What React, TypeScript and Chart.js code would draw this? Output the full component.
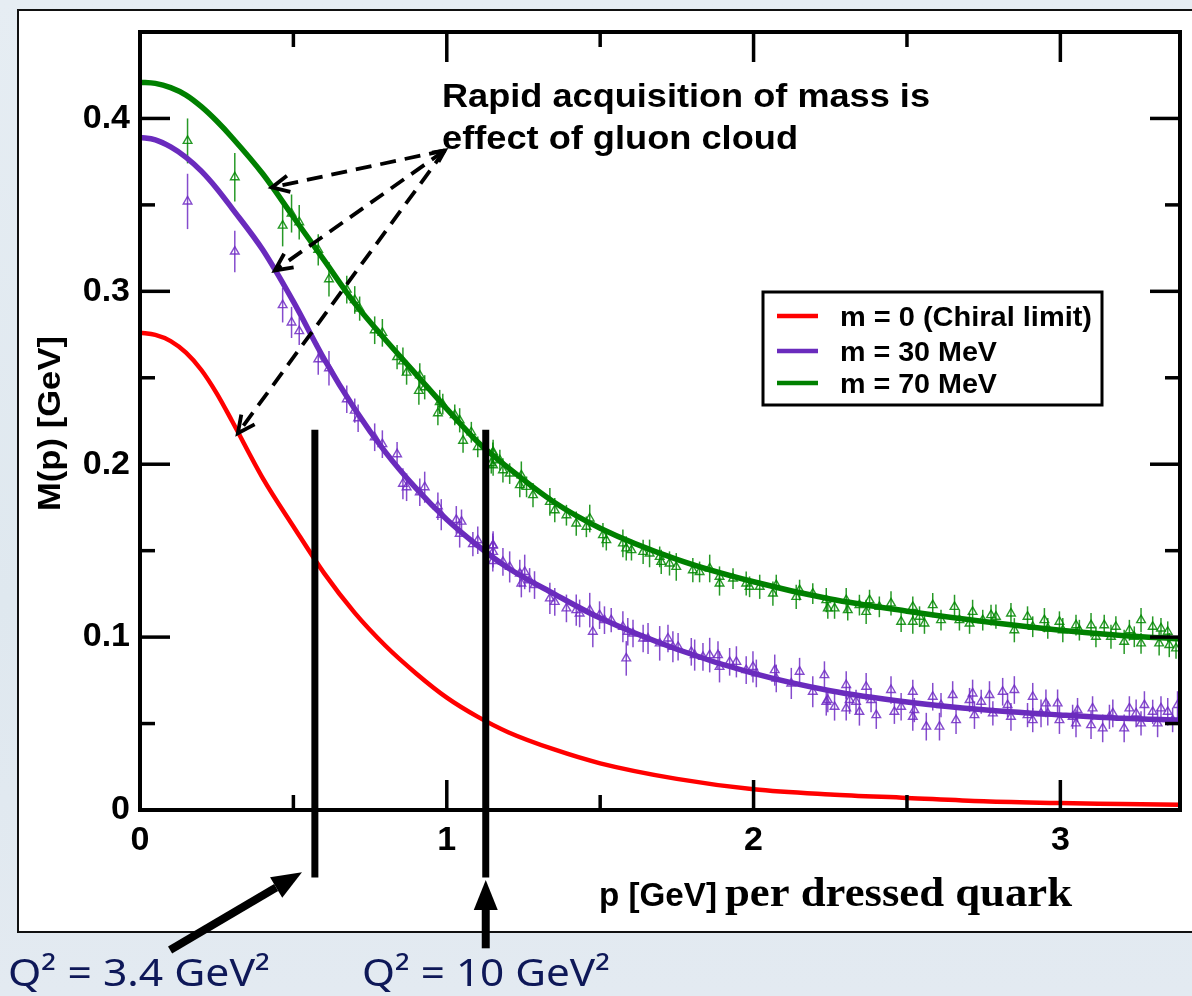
import React, { useEffect, useRef } from "react";
import { Chart, registerables } from "chart.js";

Chart.register(...registerables);

const SANS = '"Liberation Sans", Arial, Helvetica, sans-serif';
const SERIF = '"Liberation Serif", "Times New Roman", serif';
const HAND = '"Noto Sans", "DejaVu Sans", sans-serif';

// ---- Curves (Dyson–Schwinger mass function), p in GeV ----
const momentum = [0, 0.05, 0.1, 0.15, 0.2, 0.25, 0.3, 0.4, 0.5, 0.6, 0.7, 0.8, 0.9, 1.0, 1.1, 1.2, 1.35, 1.5, 1.75, 2.0, 2.25, 2.5, 2.75, 3.0, 3.2, 3.39];
const massChiral = [0.276, 0.2748, 0.2712, 0.2645, 0.2545, 0.241, 0.225, 0.192, 0.164, 0.137, 0.114, 0.095, 0.079, 0.065, 0.054, 0.045, 0.035, 0.027, 0.018, 0.012, 0.009, 0.007, 0.005, 0.004, 0.0035, 0.003];
const mass30 = [0.389, 0.3876, 0.3835, 0.3775, 0.3695, 0.3595, 0.348, 0.324, 0.294, 0.261, 0.232, 0.207, 0.186, 0.168, 0.153, 0.140, 0.125, 0.111, 0.093, 0.079, 0.069, 0.0625, 0.058, 0.055, 0.053, 0.052];
const mass70 = [0.421, 0.4203, 0.4178, 0.4135, 0.4068, 0.3985, 0.389, 0.368, 0.343, 0.318, 0.293, 0.272, 0.252, 0.232, 0.213, 0.198, 0.178, 0.163, 0.145, 0.132, 0.122, 0.115, 0.109, 0.104, 0.101, 0.099];

const seriesLabels = ["m = 0 (Chiral limit)", "m = 30 MeV", "m = 70 MeV"];
const seriesColors = ["#ff0000", "#6a2bbd", "#008000"];
const latticeColors = ["rgba(112,44,196,0.85)", "rgba(0,135,0,0.85)"];

// ---- Lattice points: [p, M(p), error] ----
const lattice30: [number, number, number][] = [
  [0.155, 0.352, 0.016], [0.309, 0.323, 0.012], [0.465, 0.292, 0.010], [0.494, 0.282, 0.009], [0.519, 0.277, 0.008],
  [0.581, 0.2607, 0.009], [0.616, 0.2555, 0.010], [0.674, 0.2376, 0.008], [0.700, 0.231, 0.007], [0.711, 0.2266, 0.008],
  [0.765, 0.2156, 0.008], [0.790, 0.2116, 0.008], [0.838, 0.2058, 0.007], [0.857, 0.1887, 0.009], [0.869, 0.1867, 0.008],
  [0.912, 0.1838, 0.008], [0.928, 0.1867, 0.009], [0.971, 0.1757, 0.008], [0.982, 0.1708, 0.009], [1.031, 0.1678, 0.008],
  [1.048, 0.1668, 0.007], [1.042, 0.1598, 0.008], [1.085, 0.1538, 0.007], [1.101, 0.156, 0.008], [1.150, 0.1529, 0.007],
  [1.150, 0.144, 0.006], [1.151, 0.1532, 0.008], [1.151, 0.1493, 0.009], [1.183, 0.1435, 0.008], [1.205, 0.1406, 0.009],
  [1.238, 0.1368, 0.008], [1.254, 0.1377, 0.010], [1.243, 0.131, 0.008], [1.270, 0.1329, 0.007], [1.286, 0.1301, 0.008],
  [1.336, 0.1224, 0.009], [1.352, 0.1204, 0.008], [1.390, 0.1166, 0.008], [1.422, 0.1156, 0.009], [1.433, 0.1137, 0.008],
  [1.466, 0.1156, 0.010], [1.476, 0.1031, 0.009], [1.498, 0.1127, 0.008], [1.514, 0.1098, 0.008], [1.536, 0.1098, 0.007],
  [1.574, 0.106, 0.009], [1.590, 0.1031, 0.008], [1.607, 0.1021, 0.008], [1.585, 0.0877, 0.010], [1.640, 0.0992, 0.008],
  [1.656, 0.0992, 0.009], [1.694, 0.0964, 0.010], [1.721, 0.0992, 0.008], [1.737, 0.0944, 0.009], [1.754, 0.0944, 0.008],
  [1.797, 0.0915, 0.008], [1.808, 0.0896, 0.009], [1.835, 0.0886, 0.008], [1.857, 0.0896, 0.010], [1.884, 0.0896, 0.008],
  [1.889, 0.0828, 0.009], [1.922, 0.0857, 0.008], [1.944, 0.0857, 0.009], [1.976, 0.0809, 0.008], [1.998, 0.0828, 0.009],
  [2.009, 0.079, 0.008], [2.069, 0.0809, 0.009], [2.074, 0.0761, 0.008], [2.123, 0.0732, 0.009], [2.150, 0.08, 0.008],
  [2.193, 0.0684, 0.009], [2.231, 0.078, 0.008], [2.237, 0.0626, 0.008], [2.242, 0.0636, 0.007], [2.264, 0.0597, 0.008],
  [2.302, 0.0723, 0.008], [2.302, 0.0588, 0.007], [2.313, 0.0636, 0.008], [2.334, 0.0626, 0.007], [2.345, 0.0568, 0.008],
  [2.367, 0.0713, 0.008], [2.383, 0.0636, 0.007], [2.400, 0.0549, 0.008], [2.448, 0.0694, 0.008], [2.459, 0.0568, 0.007],
  [2.481, 0.0597, 0.008], [2.519, 0.0684, 0.007], [2.519, 0.0539, 0.008], [2.524, 0.0578, 0.007], [2.563, 0.0482, 0.008],
  [2.584, 0.0655, 0.008], [2.606, 0.0482, 0.008], [2.611, 0.0607, 0.007], [2.649, 0.0665, 0.008], [2.660, 0.052, 0.008],
  [2.704, 0.0636, 0.007], [2.714, 0.0674, 0.008], [2.720, 0.0549, 0.008], [2.742, 0.0626, 0.007], [2.769, 0.0665, 0.008],
  [2.780, 0.0559, 0.007], [2.812, 0.0684, 0.008], [2.828, 0.0607, 0.007], [2.839, 0.0539, 0.008], [2.850, 0.0694, 0.008],
  [2.893, 0.0549, 0.007], [2.910, 0.0655, 0.008], [2.910, 0.052, 0.007], [2.937, 0.0559, 0.008], [2.953, 0.0617, 0.008],
  [2.959, 0.0559, 0.007], [2.991, 0.0617, 0.008], [2.997, 0.052, 0.008], [3.040, 0.0539, 0.007], [3.051, 0.0501, 0.008],
  [3.056, 0.0578, 0.007], [3.100, 0.0491, 0.008], [3.105, 0.0588, 0.007], [3.138, 0.0472, 0.008], [3.160, 0.0539, 0.007],
  [3.171, 0.0559, 0.008], [3.208, 0.0472, 0.008], [3.225, 0.0588, 0.007], [3.247, 0.0559, 0.008], [3.263, 0.0501, 0.007],
  [3.274, 0.0607, 0.008], [3.301, 0.0568, 0.007], [3.317, 0.0501, 0.008], [3.328, 0.0588, 0.007], [3.350, 0.0568, 0.008],
  [3.366, 0.052, 0.007], [3.382, 0.0607, 0.008],
];

const lattice70: [number, number, number][] = [
  [0.155, 0.387, 0.013], [0.309, 0.366, 0.014], [0.465, 0.338, 0.012], [0.494, 0.345, 0.011], [0.519, 0.340, 0.010],
  [0.581, 0.324, 0.009], [0.616, 0.307, 0.010], [0.674, 0.301, 0.008], [0.700, 0.295, 0.008], [0.716, 0.290, 0.007],
  [0.765, 0.2775, 0.008], [0.790, 0.276, 0.008], [0.838, 0.262, 0.007], [0.857, 0.2595, 0.008], [0.869, 0.253, 0.007],
  [0.912, 0.2514, 0.007], [0.909, 0.2424, 0.008], [0.928, 0.2445, 0.007], [0.977, 0.236, 0.007], [0.987, 0.2347, 0.006],
  [0.971, 0.2295, 0.007], [1.026, 0.2285, 0.006], [1.042, 0.2254, 0.007], [1.080, 0.2185, 0.006], [1.053, 0.2136, 0.007],
  [1.101, 0.210, 0.006], [1.150, 0.2066, 0.006], [1.145, 0.2006, 0.006], [1.151, 0.2071, 0.007], [1.151, 0.1994, 0.006],
  [1.173, 0.2023, 0.006], [1.183, 0.1965, 0.007], [1.205, 0.1946, 0.006], [1.243, 0.1936, 0.008], [1.238, 0.1879, 0.007],
  [1.260, 0.1869, 0.006], [1.281, 0.1821, 0.007], [1.336, 0.1782, 0.008], [1.352, 0.1734, 0.007], [1.390, 0.1705, 0.006],
  [1.422, 0.1657, 0.007], [1.455, 0.1638, 0.006], [1.466, 0.1686, 0.008], [1.509, 0.159, 0.007], [1.520, 0.1561, 0.006],
  [1.574, 0.1542, 0.008], [1.585, 0.1513, 0.007], [1.602, 0.1503, 0.006], [1.640, 0.1493, 0.007], [1.661, 0.1484, 0.008],
  [1.694, 0.1464, 0.006], [1.699, 0.1435, 0.007], [1.726, 0.1426, 0.007], [1.748, 0.1406, 0.008], [1.802, 0.1387, 0.007],
  [1.824, 0.1377, 0.006], [1.857, 0.1397, 0.008], [1.889, 0.1349, 0.006], [1.889, 0.131, 0.007], [1.933, 0.1339, 0.006],
  [1.976, 0.131, 0.007], [1.987, 0.1291, 0.006], [2.020, 0.1291, 0.007], [2.063, 0.1252, 0.007], [2.074, 0.1301, 0.006],
  [2.139, 0.1233, 0.007], [2.150, 0.1272, 0.006], [2.193, 0.1252, 0.006], [2.237, 0.1214, 0.007], [2.242, 0.1166, 0.006],
  [2.264, 0.1166, 0.006], [2.302, 0.1214, 0.007], [2.307, 0.1156, 0.006], [2.345, 0.1185, 0.006], [2.367, 0.1146, 0.007],
  [2.378, 0.1214, 0.006], [2.410, 0.1175, 0.006], [2.448, 0.1195, 0.007], [2.481, 0.1089, 0.006], [2.519, 0.1175, 0.006],
  [2.519, 0.1089, 0.007], [2.541, 0.1118, 0.006], [2.557, 0.1079, 0.006], [2.584, 0.1185, 0.007], [2.611, 0.1098, 0.006],
  [2.655, 0.1175, 0.007], [2.671, 0.1098, 0.006], [2.704, 0.1079, 0.006], [2.714, 0.1146, 0.007], [2.747, 0.1098, 0.006],
  [2.774, 0.1127, 0.006], [2.790, 0.1118, 0.007], [2.839, 0.1137, 0.006], [2.850, 0.104, 0.007], [2.893, 0.1118, 0.006],
  [2.910, 0.106, 0.006], [2.948, 0.1098, 0.007], [2.959, 0.105, 0.006], [2.997, 0.1089, 0.006], [3.008, 0.104, 0.007],
  [3.051, 0.1069, 0.006], [3.062, 0.104, 0.006], [3.100, 0.1069, 0.007], [3.116, 0.1002, 0.006], [3.143, 0.1069, 0.006],
  [3.165, 0.1002, 0.007], [3.181, 0.106, 0.006], [3.208, 0.0973, 0.007], [3.225, 0.104, 0.006], [3.241, 0.1002, 0.006],
  [3.263, 0.1098, 0.007], [3.263, 0.0964, 0.006], [3.301, 0.106, 0.006], [3.322, 0.0964, 0.007], [3.328, 0.105, 0.006],
  [3.350, 0.1031, 0.006], [3.355, 0.0954, 0.007], [3.377, 0.0935, 0.006],
];

// ---- Axes ----
const xRange = [0, 3.39];
const yRange = [0, 0.45];
const xMajorTicks = [0, 1, 2, 3];
const xMinorTicks = [0.5, 1.5, 2.5];
const yMajorTicks = [0, 0.1, 0.2, 0.3, 0.4];
const yMinorTicks = [0.05, 0.15, 0.25, 0.35];
const yTickText = ["0", "0.1", "0.2", "0.3", "0.4"];

// ---- Annotations (data units) ----
const q2Markers = [
  { p: 0.57, top: 0.22, bottom: -0.039, tail: [0.098, -0.081], tip: [0.528, -0.036], label: "Q\u00B2 = 3.4 GeV\u00B2" },
  { p: 1.127, top: 0.22, bottom: -0.039, tail: [1.127, -0.080], tip: [1.127, -0.0405], label: "Q\u00B2 = 10 GeV\u00B2" },
];
const noteSource = [0.9935, 0.3815];
const noteTargets = [[0.43, 0.3601], [0.4397, 0.3121], [0.319, 0.2179]];
const noteLines = ["Rapid acquisition of mass is", "effect of gluon cloud"];

function fitText(ctx: CanvasRenderingContext2D, text: string, x: number, y: number, font: string, width: number, color = "#000", rot = 0) {
  ctx.save();
  ctx.font = font;
  ctx.fillStyle = color;
  ctx.textAlign = "left";
  ctx.textBaseline = "alphabetic";
  const w = ctx.measureText(text).width;
  ctx.translate(x, y);
  if (rot) ctx.rotate(rot);
  ctx.scale(width / w, 1);
  ctx.fillText(text, 0, 0);
  ctx.restore();
}

function solidArrow(ctx: CanvasRenderingContext2D, x1: number, y1: number, x2: number, y2: number) {
  const ang = Math.atan2(y2 - y1, x2 - x1);
  const head = 30, half = 12;
  const bx = x2 - head * Math.cos(ang), by = y2 - head * Math.sin(ang);
  ctx.save();
  ctx.strokeStyle = "#000";
  ctx.fillStyle = "#000";
  ctx.lineWidth = 8;
  ctx.beginPath();
  ctx.moveTo(x1, y1);
  ctx.lineTo(bx, by);
  ctx.stroke();
  ctx.beginPath();
  ctx.moveTo(x2, y2);
  ctx.lineTo(bx + half * Math.sin(ang), by - half * Math.cos(ang));
  ctx.lineTo(bx - half * Math.sin(ang), by + half * Math.cos(ang));
  ctx.closePath();
  ctx.fill();
  ctx.restore();
}

function chevron(ctx: CanvasRenderingContext2D, x: number, y: number, ang: number, len = 19) {
  ctx.save();
  ctx.setLineDash([]);
  ctx.beginPath();
  ctx.moveTo(x - len * Math.cos(ang - 0.45), y - len * Math.sin(ang - 0.45));
  ctx.lineTo(x, y);
  ctx.lineTo(x - len * Math.cos(ang + 0.45), y - len * Math.sin(ang + 0.45));
  ctx.stroke();
  ctx.restore();
}

const decorPlugin = {
  id: "decor",
  beforeDraw(chart: any) {
    const ctx = chart.ctx;
    ctx.save();
    ctx.fillStyle = "#ffffff";
    ctx.fillRect(18, 10, 1200, 922);
    ctx.strokeStyle = "#111";
    ctx.lineWidth = 2;
    ctx.strokeRect(18, 10, 1200, 922);
    ctx.restore();
  },
  beforeDatasetsDraw(chart: any) {
    const ctx = chart.ctx;
    const ys = chart.scales.y;
    const a = chart.chartArea;
    ctx.save();
    ctx.beginPath();
    ctx.rect(a.left, a.top, a.right - a.left, a.bottom - a.top);
    ctx.clip();
    chart.data.datasets.forEach((ds: any, i: number) => {
      if (!ds.errors) return;
      const meta = chart.getDatasetMeta(i);
      ctx.strokeStyle = ds.borderColor;
      ctx.lineWidth = 1.5;
      meta.data.forEach((pt: any, j: number) => {
        const v = ds.data[j].y;
        const e = ds.errors[j];
        ctx.beginPath();
        ctx.moveTo(pt.x, ys.getPixelForValue(v + e));
        ctx.lineTo(pt.x, ys.getPixelForValue(v - e));
        ctx.stroke();
      });
    });
    ctx.restore();
  },
  afterDatasetsDraw(chart: any) {
    const ctx = chart.ctx;
    const xs = chart.scales.x;
    const ys = chart.scales.y;
    const a = chart.chartArea;
    const X = (v: number) => xs.getPixelForValue(v);
    const Y = (v: number) => ys.getPixelForValue(v);
    ctx.save();

    // plot frame
    ctx.strokeStyle = "#000";
    ctx.lineWidth = 4;
    ctx.strokeRect(a.left, a.top, a.right - a.left, a.bottom - a.top);

    // inward ticks on all four sides
    ctx.lineWidth = 3.5;
    const tick = (x1: number, y1: number, x2: number, y2: number) => {
      ctx.beginPath();
      ctx.moveTo(x1, y1);
      ctx.lineTo(x2, y2);
      ctx.stroke();
    };
    yMajorTicks.forEach((v) => { tick(a.left, Y(v), a.left + 30, Y(v)); tick(a.right, Y(v), a.right - 30, Y(v)); });
    yMinorTicks.forEach((v) => { tick(a.left, Y(v), a.left + 15, Y(v)); tick(a.right, Y(v), a.right - 15, Y(v)); });
    xMajorTicks.forEach((v) => { tick(X(v), a.bottom, X(v), a.bottom - 30); tick(X(v), a.top, X(v), a.top + 30); });
    xMinorTicks.forEach((v) => { tick(X(v), a.bottom, X(v), a.bottom - 15); tick(X(v), a.top, X(v), a.top + 15); });

    // Q^2 marker lines and arrows
    q2Markers.forEach((m) => {
      ctx.lineWidth = 7;
      ctx.beginPath();
      ctx.moveTo(X(m.p), Y(m.top));
      ctx.lineTo(X(m.p), Y(m.bottom));
      ctx.stroke();
      solidArrow(ctx, X(m.tail[0]), Y(m.tail[1]), X(m.tip[0]), Y(m.tip[1]));
    });
    fitText(ctx, q2Markers[0].label, 8, 986, `38px ${HAND}`, 262, "#0e1858");
    fitText(ctx, q2Markers[1].label, 362, 986, `38px ${HAND}`, 248, "#0e1858");

    // dashed arrows from the note
    const sx = X(noteSource[0]), sy = Y(noteSource[1]);
    ctx.lineWidth = 3.8;
    ctx.strokeStyle = "#000";
    noteTargets.forEach((t) => {
      const tx = X(t[0]), ty = Y(t[1]);
      ctx.setLineDash([16, 9]);
      ctx.beginPath();
      ctx.moveTo(sx, sy);
      ctx.lineTo(tx, ty);
      ctx.stroke();
      chevron(ctx, tx, ty, Math.atan2(ty - sy, tx - sx));
    });
    ctx.setLineDash([]);
    const mid = noteTargets[1];
    chevron(ctx, sx, sy, Math.atan2(sy - Y(mid[1]), sx - X(mid[0])), 13);

    fitText(ctx, noteLines[0], 442, 107, `bold 33px ${SANS}`, 488);
    fitText(ctx, noteLines[1], 442, 149, `bold 33px ${SANS}`, 356);

    // legend
    ctx.lineWidth = 3;
    ctx.strokeStyle = "#000";
    ctx.strokeRect(763, 292, 339, 113);
    const rows = [316, 351, 383];
    const widths = [252, 157, 157];
    chart.data.datasets.slice(0, 3).forEach((ds: any, i: number) => {
      ctx.strokeStyle = ds.borderColor;
      ctx.lineWidth = 4.5;
      ctx.beginPath();
      ctx.moveTo(777, rows[i]);
      ctx.lineTo(818, rows[i]);
      ctx.stroke();
      fitText(ctx, ds.label, 840, rows[i] + 10, `bold 27px ${SANS}`, widths[i]);
    });

    // axis titles
    fitText(ctx, "M(p) [GeV]", 60, 511, `bold 31px ${SANS}`, 175, "#000", -Math.PI / 2);
    fitText(ctx, "p [GeV]", 599, 906, `bold 33px ${SANS}`, 118);
    fitText(ctx, "per dressed quark", 725, 906, `bold 42px ${SERIF}`, 347);

    ctx.restore();
  },
};

export default function App() {
  const ref = useRef<HTMLCanvasElement>(null);
  useEffect(() => {
    document.body.style.margin = "0";
    const curve = (vals: number[], i: number) => ({
      type: "line",
      label: seriesLabels[i],
      data: momentum.map((p, k) => ({ x: p, y: vals[k] })),
      borderColor: seriesColors[i],
      borderWidth: i === 0 ? 4.5 : 5.5,
      pointRadius: 0,
      cubicInterpolationMode: "monotone",
      fill: false,
      order: 0,
    });
    const lattice = (pts: [number, number, number][], c: string, label: string) => ({
      type: "scatter",
      label,
      data: pts.map((d) => ({ x: d[0], y: d[1] })),
      errors: pts.map((d) => d[2]),
      showLine: false,
      pointStyle: "triangle",
      pointRadius: 5,
      borderColor: c,
      backgroundColor: "rgba(0,0,0,0)",
      borderWidth: 1.4,
      order: 2,
    });
    const tickFont = { family: SANS, size: 34, weight: "bold" as const };
    const chart = new Chart(ref.current as HTMLCanvasElement, {
      type: "line",
      data: {
        datasets: [
          curve(massChiral, 0),
          curve(mass30, 1),
          curve(mass70, 2),
          lattice(lattice30, latticeColors[0], "lattice m = 30 MeV"),
          lattice(lattice70, latticeColors[1], "lattice m = 70 MeV"),
        ] as any,
      },
      options: {
        animation: false,
        responsive: false,
        events: [],
        layout: { padding: { left: 0, top: 32, right: 12, bottom: 0 } },
        plugins: { legend: { display: false }, tooltip: { enabled: false } },
        scales: {
          x: {
            type: "linear",
            min: xRange[0],
            max: xRange[1],
            grid: { display: false, drawTicks: false, tickLength: 0 },
            border: { display: false },
            ticks: { stepSize: 1, includeBounds: false, font: tickFont, color: "#000", padding: 10, maxRotation: 0, autoSkip: false },
            afterFit: (s: any) => { s.height = 186; },
          },
          y: {
            type: "linear",
            min: yRange[0],
            max: yRange[1],
            grid: { display: false, drawTicks: false, tickLength: 0 },
            border: { display: false },
            ticks: {
              stepSize: 0.1,
              includeBounds: false,
              font: tickFont,
              color: "#000",
              padding: 10,
              callback: (v: any) => {
                const i = yMajorTicks.findIndex((t) => Math.abs(t - Number(v)) < 1e-6);
                return i >= 0 ? yTickText[i] : "";
              },
            },
            afterFit: (s: any) => { s.width = 140; },
          },
        },
      } as any,
      plugins: [decorPlugin],
    });
    return () => chart.destroy();
  }, []);

  return (
    <div style={{ width: 1192, height: 996, position: "relative", overflow: "hidden", background: "linear-gradient(180deg, #e6edf3 0%, #dfe8ef 60%, #e3eaf1 100%)" }}>
      <canvas ref={ref} width={1192} height={996} style={{ display: "block", width: 1192, height: 996 }} />
    </div>
  );
}
